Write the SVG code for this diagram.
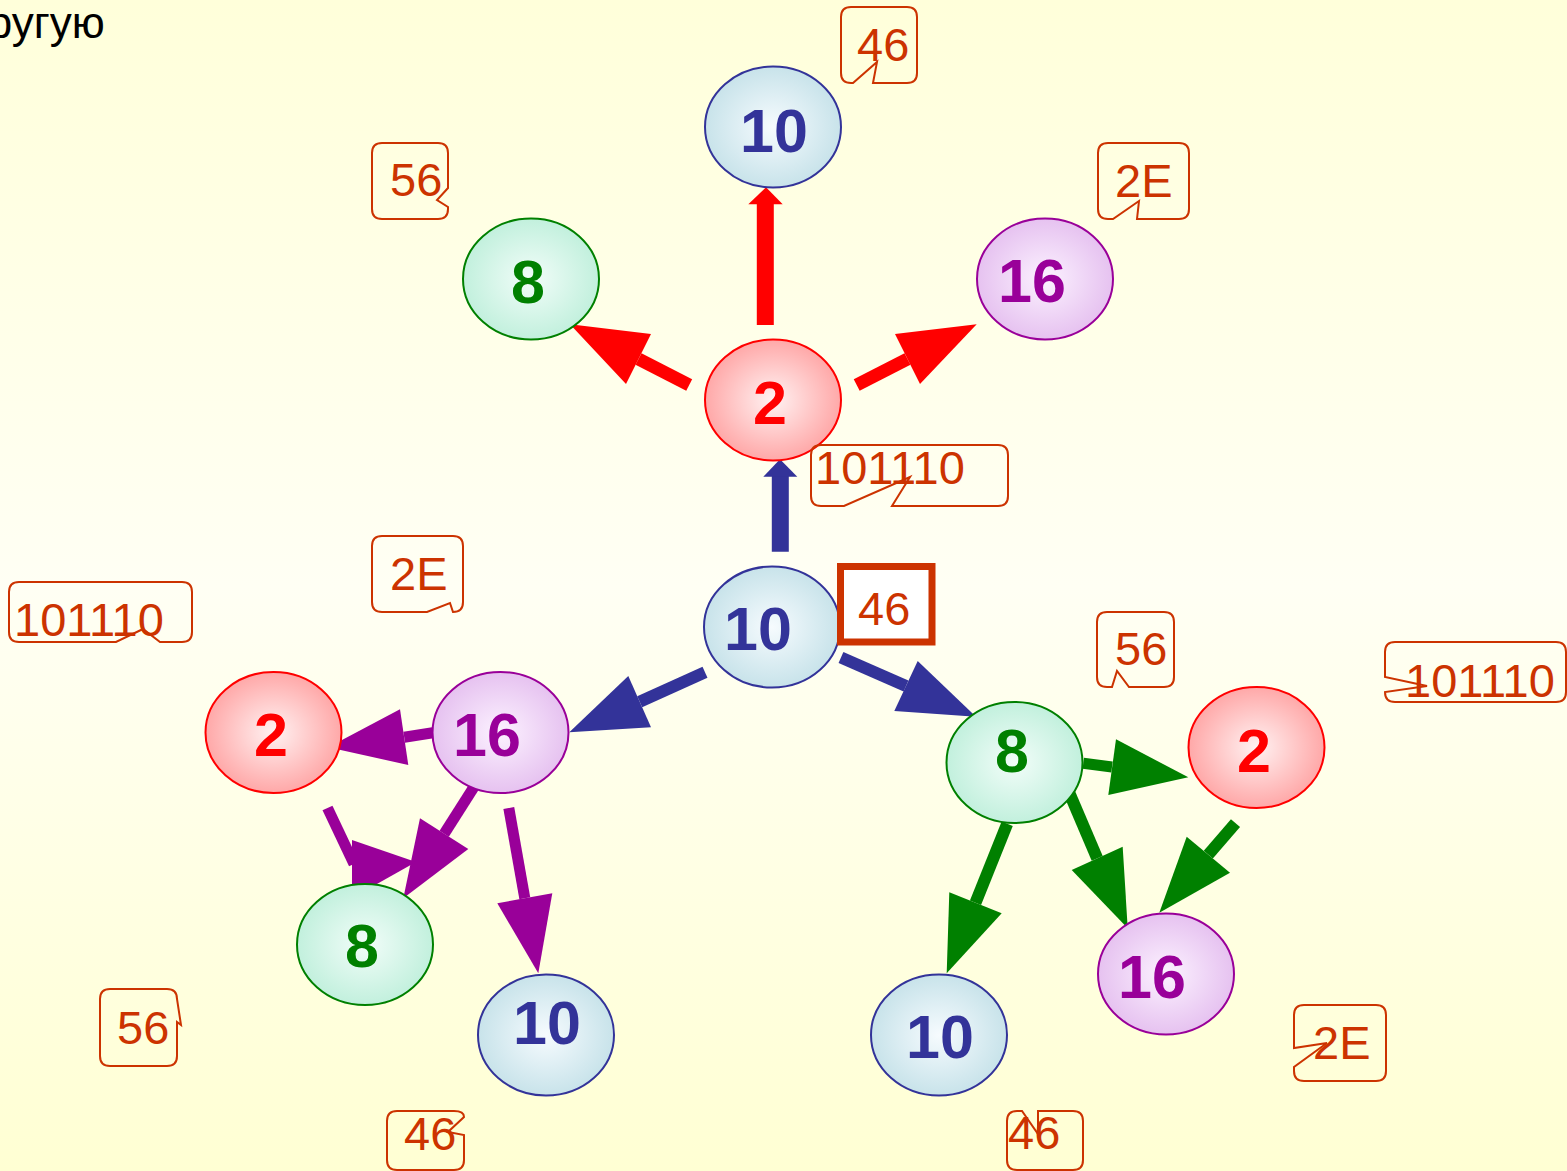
<svg xmlns="http://www.w3.org/2000/svg" width="1567" height="1171" viewBox="0 0 1567 1171">
<defs>
<linearGradient id="bg" x1="0" y1="0" x2="0" y2="1">
<stop offset="0" stop-color="#FFFFDA"/>
<stop offset="0.5" stop-color="#FFFFF4"/>
<stop offset="1" stop-color="#FFFFD3"/>
</linearGradient>
<radialGradient id="gBlue" cx="0.5" cy="0.5" r="0.5"><stop offset="0" stop-color="#F6FBFE"/><stop offset="1" stop-color="#C8E3EA"/></radialGradient>
<radialGradient id="gGreen" cx="0.5" cy="0.5" r="0.5"><stop offset="0" stop-color="#F2FDF9"/><stop offset="1" stop-color="#C2F0DD"/></radialGradient>
<radialGradient id="gPurple" cx="0.5" cy="0.5" r="0.5"><stop offset="0" stop-color="#FCF2FF"/><stop offset="1" stop-color="#E6C2F0"/></radialGradient>
<radialGradient id="gRed" cx="0.5" cy="0.5" r="0.5"><stop offset="0" stop-color="#FFF2F2"/><stop offset="1" stop-color="#FFA8A8"/></radialGradient>
</defs>
<style>
.nb{fill:url(#gBlue);stroke:#333399;stroke-width:2}
.ng{fill:url(#gGreen);stroke:#008000;stroke-width:2}
.np{fill:url(#gPurple);stroke:#990099;stroke-width:2}
.nr{fill:url(#gRed);stroke:#FF0000;stroke-width:2}
.t{font-family:"Liberation Sans",Arial,sans-serif;font-weight:bold;font-size:61px;text-anchor:middle}
.tb{fill:#333399}.tg{fill:#008000}.tp{fill:#990099}.tr{fill:#FF0000}
.co{fill:none;stroke:#CC3300;stroke-width:2;stroke-linejoin:miter}
.ct{font-family:"Liberation Sans",Arial,sans-serif;font-size:47px;fill:#CC3300}
.sR{stroke:#FF0000;fill:none}.hR{fill:#FF0000}
.sB{stroke:#333399;fill:none}.hB{fill:#333399}
.sG{stroke:#008000;fill:none}.hG{fill:#008000}
.sP{stroke:#990099;fill:none}.hP{fill:#990099}
</style>
<rect x="0" y="0" width="1567" height="1171" fill="url(#bg)"/>
<text x="-38" y="38" font-family="Liberation Sans, Arial, sans-serif" font-size="44" fill="#000000">другую</text>

<g id="connectors">
<line class="sR" x1="765.3" y1="325" x2="765.3" y2="203" stroke-width="17"/>
<polygon class="hR" points="748.3,204.3 782.7,204.3 766,187.3"/>
<line class="sR" x1="689.2" y1="385" x2="638.5" y2="359" stroke-width="13"/>
<polygon class="hR" points="651,334 626,384 570,324.3"/>
<line class="sR" x1="856.7" y1="385" x2="907.5" y2="359" stroke-width="13"/>
<polygon class="hR" points="895,334 920,384 976.7,324.3"/>
<line class="sB" x1="780.3" y1="551.7" x2="780.3" y2="476" stroke-width="17"/>
<polygon class="hB" points="763.3,476.7 797.3,476.7 780,459.3"/>
<line class="sB" x1="705" y1="672.2" x2="639.7" y2="701.7" stroke-width="12"/>
<polygon class="hB" points="628.3,676 651,727.3 569.3,732.3"/>
<line class="sB" x1="841" y1="657.5" x2="906" y2="686" stroke-width="12"/>
<polygon class="hB" points="917.7,661 894.3,711 976,716.7"/>
<line class="sG" x1="1083.3" y1="763.3" x2="1112" y2="767" stroke-width="11"/>
<polygon class="hG" points="1116,739.3 1108.3,795 1188.3,777.3"/>
<line class="sG" x1="1069.5" y1="793.3" x2="1097.2" y2="858.3" stroke-width="12"/>
<polygon class="hG" points="1071.7,870 1122.7,846.7 1127.7,928.3"/>
<line class="sG" x1="1007.2" y1="823.8" x2="975.5" y2="902.8" stroke-width="12"/>
<polygon class="hG" points="949.3,892.3 1001.7,913.3 946.7,973.3"/>
<line class="sG" x1="1235.5" y1="823.2" x2="1208.3" y2="854.7" stroke-width="12"/>
<polygon class="hG" points="1186.7,836.7 1230,872.7 1159.3,912.7"/>
<line class="sP" x1="432.8" y1="732.8" x2="404.2" y2="737.2" stroke-width="11"/>
<polygon class="hP" points="400,709.3 408.3,765 328.3,747.3"/>
<line class="sP" x1="479.2" y1="778.8" x2="444.2" y2="833.7" stroke-width="11"/>
<polygon class="hP" points="420,818.3 468.3,849 403.3,898.3"/>
<line class="sP" x1="508.8" y1="808" x2="524.8" y2="898.3" stroke-width="11"/>
<polygon class="hP" points="497.3,903.3 552.3,893.3 538.3,973.3"/>
<line class="sP" x1="327.5" y1="808" x2="354" y2="864" stroke-width="11"/>
<polygon class="hP" points="352,840 416,862 352,898"/>
</g>

<g id="n-top10"><ellipse class="nb" cx="773" cy="127" rx="68" ry="60.5"/><text class="t tb" x="774" y="152">10</text></g>
<g id="n-top8"><ellipse class="ng" cx="531" cy="279" rx="68" ry="60.5"/><text class="t tg" x="528" y="303">8</text></g>
<g id="n-top16"><ellipse class="np" cx="1045" cy="279" rx="68" ry="60.5"/><text class="t tp" x="1032" y="302">16</text></g>
<g id="n-c2"><ellipse class="nr" cx="773" cy="400" rx="68" ry="60.5"/><text class="t tr" x="770" y="424">2</text></g>
<g id="n-c10"><ellipse class="nb" cx="772" cy="627" rx="68" ry="60.5"/><text class="t tb" x="758" y="650">10</text></g>
<g id="n-l2"><ellipse class="nr" cx="273.5" cy="732.5" rx="68" ry="60.5"/><text class="t tr" x="271" y="756">2</text></g>
<g id="n-l16"><ellipse class="np" cx="500.5" cy="732.5" rx="68" ry="60.5"/><text class="t tp" x="487" y="756">16</text></g>
<g id="n-l8"><ellipse class="ng" cx="365" cy="944.5" rx="68" ry="60.5"/><text class="t tg" x="362" y="967">8</text></g>
<g id="n-l10"><ellipse class="nb" cx="546" cy="1035" rx="68" ry="60.5"/><text class="t tb" x="547" y="1044">10</text></g>
<g id="n-r8"><ellipse class="ng" cx="1014.5" cy="762.5" rx="68" ry="60.5"/><text class="t tg" x="1012" y="772">8</text></g>
<g id="n-r2"><ellipse class="nr" cx="1256.5" cy="747.5" rx="68" ry="60.5"/><text class="t tr" x="1254" y="772">2</text></g>
<g id="n-r10"><ellipse class="nb" cx="939" cy="1035" rx="68" ry="60.5"/><text class="t tb" x="940" y="1058">10</text></g>
<g id="n-r16"><ellipse class="np" cx="1166" cy="974" rx="68" ry="60.5"/><text class="t tp" x="1152" y="998">16</text></g>

<g id="callouts">
<g id="c1"><path class="co" d="M851,7 H907 Q917,7 917,17 V73 Q917,83 907,83 H873 L877,62 L853,83 H851 Q841,83 841,73 V17 Q841,7 851,7 Z"/><text class="ct" x="857" y="61">46</text></g>
<g id="c2"><path class="co" d="M1108,143 H1179 Q1189,143 1189,153 V209 Q1189,219 1179,219 H1137 L1139,201 L1113,219 H1108 Q1098,219 1098,209 V153 Q1098,143 1108,143 Z"/><text class="ct" x="1115" y="197">2E</text></g>
<g id="c3"><path class="co" d="M382,143 H438 Q448,143 448,153 V188 L437,200 L448,207 V209 Q448,219 438,219 H382 Q372,219 372,209 V153 Q372,143 382,143 Z"/><text class="ct" x="390" y="196">56</text></g>
<g id="c4"><path class="co" d="M821,445 H998 Q1008,445 1008,455 V496 Q1008,506 998,506 H892 L910,477 L844,506 H821 Q811,506 811,496 V455 Q811,445 821,445 Z"/><text class="ct" x="815" y="484">101110</text></g>
<g id="c5"><rect x="840.5" y="566.5" width="91.5" height="75.5" fill="#FFFFFF" stroke="#CC3300" stroke-width="7"/><text class="ct" x="858" y="625">46</text></g>
<g id="c6"><path class="co" d="M19,582 H182 Q192,582 192,592 V632 Q192,642 182,642 H160 L143,629 L116,642 H19 Q9,642 9,632 V592 Q9,582 19,582 Z"/><text class="ct" x="14" y="636">101110</text></g>
<g id="c7"><path class="co" d="M382,536 H453 Q463,536 463,546 V602 Q463,612 453,612 L450,603 L427,612 H382 Q372,612 372,602 V546 Q372,536 382,536 Z"/><text class="ct" x="390" y="590">2E</text></g>
<g id="c8"><path class="co" d="M1107,612 H1164 Q1174,612 1174,622 V677 Q1174,687 1164,687 H1129 L1117,671 L1112,687 H1107 Q1097,687 1097,677 V622 Q1097,612 1107,612 Z"/><text class="ct" x="1115" y="665">56</text></g>
<g id="c9"><path class="co" d="M1395,642 H1556 Q1566,642 1566,652 V692 Q1566,702 1556,702 H1395 Q1385,702 1385,692 L1427,686 L1385,677 V652 Q1385,642 1395,642 Z"/><text class="ct" x="1405" y="697">101110</text></g>
<g id="c10"><path class="co" d="M110,989 H167 Q177,989 177,999 L181,1025 L177,1022 V1056 Q177,1066 167,1066 H110 Q100,1066 100,1056 V999 Q100,989 110,989 Z"/><text class="ct" x="117" y="1044">56</text></g>
<g id="c11"><path class="co" d="M397,1111 H454 Q464,1111 464,1117 L448,1132 L464,1135 V1160 Q464,1170 454,1170 H397 Q387,1170 387,1160 V1121 Q387,1111 397,1111 Z"/><text class="ct" x="404" y="1150">46</text></g>
<g id="c12"><path class="co" d="M1017,1111 H1022 L1038,1134 V1111 H1073 Q1083,1111 1083,1121 V1160 Q1083,1170 1073,1170 H1017 Q1007,1170 1007,1160 V1121 Q1007,1111 1017,1111 Z"/><text class="ct" x="1008" y="1149">46</text></g>
<g id="c13"><path class="co" d="M1304,1005 H1376 Q1386,1005 1386,1015 V1071 Q1386,1081 1376,1081 H1304 Q1294,1081 1294,1071 V1067 L1327,1043 L1294,1048 V1015 Q1294,1005 1304,1005 Z"/><text class="ct" x="1313" y="1059">2E</text></g>
</g>
</svg>
